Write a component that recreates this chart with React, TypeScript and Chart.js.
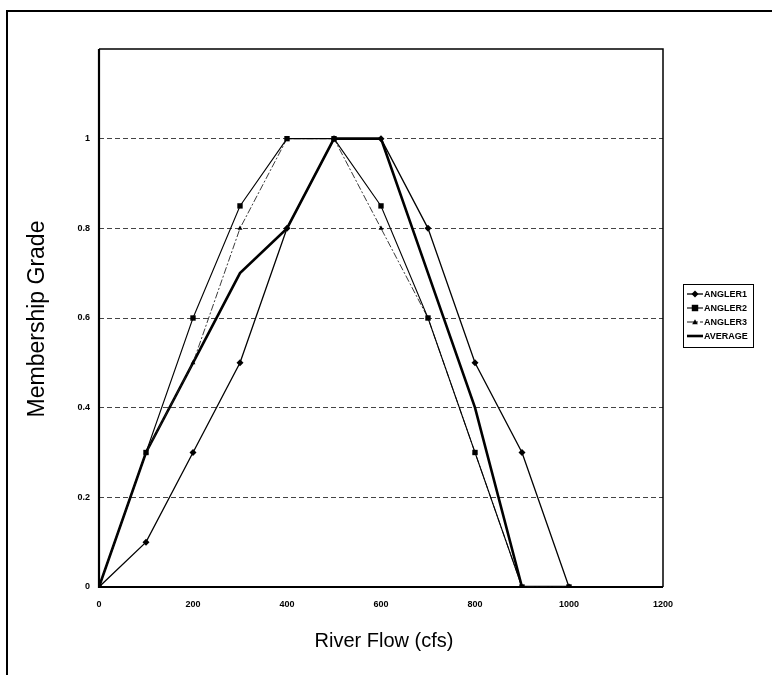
import React, { useEffect, useRef } from 'react';
import { Chart, registerables } from 'chart.js';

Chart.register(...registerables);

// River flow (cfs) categories
const flowValues = [0, 100, 200, 300, 400, 500, 600, 700, 800, 900, 1000];
// Membership grade per angler
const angler1 = [0, 0.1, 0.3, 0.5, 0.8, 1, 1, 0.8, 0.5, 0.3, 0];
const angler2 = [0, 0.3, 0.6, 0.85, 1, 1, 0.85, 0.6, 0.3, 0, 0];
const angler3 = [0, 0.3, 0.5, 0.8, 1, 1, 0.8, 0.6, 0.3, 0, 0];
const average = [0, 0.3, 0.5, 0.7, 0.8, 1, 1, 0.7, 0.4, 0, 0];

const seriesNames = ['ANGLER1', 'ANGLER2', 'ANGLER3', 'AVERAGE'];
const xTitle = 'River Flow (cfs)';
const yTitle = 'Membership Grade';

const FONT = 'Arial, "Liberation Sans", Helvetica, sans-serif';

function drawMarker(ctx: CanvasRenderingContext2D, style: string, x: number, y: number, r: number) {
  ctx.beginPath();
  if (style === 'rectRot') {
    ctx.moveTo(x, y - r);
    ctx.lineTo(x + r, y);
    ctx.lineTo(x, y + r);
    ctx.lineTo(x - r, y);
    ctx.closePath();
  } else if (style === 'rect') {
    ctx.rect(x - r * 0.85, y - r * 0.85, 1.7 * r, 1.7 * r);
  } else if (style === 'triangle') {
    ctx.moveTo(x, y - r);
    ctx.lineTo(x + r, y + r * 0.8);
    ctx.lineTo(x - r, y + r * 0.8);
    ctx.closePath();
  } else {
    return;
  }
  ctx.fillStyle = '#000';
  ctx.fill();
}

const outerFrame = {
  id: 'outerFrame',
  beforeDraw(chart: any) {
    const ctx = chart.ctx as CanvasRenderingContext2D;
    ctx.save();
    ctx.fillStyle = '#fff';
    ctx.fillRect(0, 0, chart.width, chart.height);
    ctx.strokeStyle = '#000';
    ctx.lineWidth = 2;
    ctx.beginPath();
    ctx.moveTo(7, chart.height);
    ctx.lineTo(7, 11);
    ctx.lineTo(chart.width, 11);
    ctx.stroke();
    ctx.restore();
  },
  beforeDatasetsDraw(chart: any) {
    const ctx = chart.ctx as CanvasRenderingContext2D;
    const a = chart.chartArea;
    ctx.save();
    ctx.strokeStyle = '#000';
    ctx.lineWidth = 1.5;
    ctx.beginPath();
    ctx.moveTo(a.left, a.top);
    ctx.lineTo(a.right, a.top);
    ctx.lineTo(a.right, a.bottom);
    ctx.stroke();
    ctx.lineWidth = 2.2;
    ctx.beginPath();
    ctx.moveTo(a.left, a.top);
    ctx.lineTo(a.left, a.bottom);
    ctx.lineTo(a.right, a.bottom);
    ctx.stroke();
    ctx.restore();
  },
  afterDraw(chart: any) {
    const ctx = chart.ctx as CanvasRenderingContext2D;
    const a = chart.chartArea;
    ctx.save();
    ctx.fillStyle = '#000';
    ctx.font = `20px ${FONT}`;
    ctx.textAlign = 'center';
    ctx.textBaseline = 'middle';
    ctx.fillText(xTitle, (a.left + a.right) / 2 + 3, 641);
    ctx.save();
    ctx.translate(38, (a.top + a.bottom) / 2 + 1);
    ctx.rotate(-Math.PI / 2);
    ctx.font = `23px ${FONT}`;
    ctx.fillText(yTitle, 0, 0);
    ctx.restore();

    // legend
    const bx = 683, by = 284, bw = 70, bh = 63;
    ctx.strokeStyle = '#000';
    ctx.lineWidth = 1;
    ctx.strokeRect(bx + 0.5, by + 0.5, bw, bh);
    ctx.font = `bold 9px ${FONT}`;
    ctx.textAlign = 'left';
    ctx.textBaseline = 'middle';
    chart.data.datasets.forEach((ds: any, i: number) => {
      const y = by + 10 + i * 14;
      ctx.save();
      ctx.strokeStyle = '#000';
      ctx.lineWidth = ds.borderWidth;
      ctx.setLineDash(ds.borderDash || []);
      ctx.beginPath();
      ctx.moveTo(bx + 4, y);
      ctx.lineTo(bx + 20, y);
      ctx.stroke();
      ctx.restore();
      if (ds.pointRadius > 0) drawMarker(ctx, ds.pointStyle, bx + 12, y, ds.pointRadius);
      ctx.fillStyle = '#000';
      ctx.fillText(ds.label, bx + 21, y + 0.5);
    });
    ctx.restore();
  },
};

export default function App() {
  const ref = useRef<HTMLCanvasElement>(null);

  useEffect(() => {
    const canvas = ref.current;
    if (!canvas) return;
    const mk = (arr: number[]) => flowValues.map((x, i) => ({ x, y: arr[i] }));
    const chart = new Chart(canvas, {
      type: 'line',
      data: {
        datasets: [
          {
            label: seriesNames[0],
            data: mk(angler1),
            borderColor: '#000',
            backgroundColor: '#000',
            borderWidth: 1.3,
            pointStyle: 'rectRot',
            pointRadius: 3.5,
            pointBackgroundColor: '#000',
            pointBorderColor: '#000',
            pointBorderWidth: 0,
            tension: 0,
          },
          {
            label: seriesNames[1],
            data: mk(angler2),
            borderColor: '#000',
            backgroundColor: '#000',
            borderWidth: 1.1,
            pointStyle: 'rect',
            pointRadius: 3.8,
            pointBackgroundColor: '#000',
            pointBorderColor: '#000',
            pointBorderWidth: 0,
            tension: 0,
          },
          {
            label: seriesNames[2],
            data: mk(angler3),
            borderColor: '#222',
            backgroundColor: '#000',
            borderWidth: 0.9,
            borderDash: [7, 2, 2, 2],
            pointStyle: 'triangle',
            pointRadius: 2.8,
            pointBackgroundColor: '#000',
            pointBorderColor: '#000',
            pointBorderWidth: 0,
            tension: 0,
          },
          {
            label: seriesNames[3],
            data: mk(average),
            borderColor: '#000',
            backgroundColor: '#000',
            borderWidth: 2.6,
            pointRadius: 0,
            pointStyle: 'line',
            tension: 0,
          },
        ],
      },
      options: {
        responsive: false,
        animation: false,
        devicePixelRatio: 1,
        layout: { padding: { left: 69, top: 49, right: 109, bottom: 58 } },
        plugins: {
          legend: { display: false },
          tooltip: { enabled: false },
        },
        scales: {
          x: {
            type: 'linear',
            min: 0,
            max: 1200,
            ticks: {
              stepSize: 200,
              color: '#000',
              font: { family: FONT, size: 9, weight: 'bold' },
              padding: 12,
              maxRotation: 0,
              callback: (v: any) => String(Math.round(Number(v))),
            },
            grid: { display: false, drawTicks: false },
            border: { display: false },
            afterFit: (s: any) => {
              s.height = 30;
            },
          },
          y: {
            type: 'linear',
            min: 0,
            max: 1.2,
            ticks: {
              stepSize: 0.2,
              color: '#000',
              font: { family: FONT, size: 9, weight: 'bold' },
              padding: 9,
              callback: (v: any) => (Number(v) > 1.1 ? '' : String(Math.round(Number(v) * 10) / 10)),
            },
            grid: {
              drawTicks: false,
              lineWidth: 1,
              color: (c: any) => {
                const v = c.tick ? c.tick.value : 0;
                return v < 0.01 || v > 1.1 ? 'rgba(0,0,0,0)' : '#444';
              },
            },
            border: { display: false, dash: [5, 3] },
            afterFit: (s: any) => {
              s.width = 30;
            },
          },
        },
      },
      plugins: [outerFrame],
    } as any);
    return () => chart.destroy();
  }, []);

  return (
    <div style={{ position: 'absolute', left: 0, top: 0, width: 772, height: 675, background: '#fff' }}>
      <canvas ref={ref} width={772} height={675} style={{ display: 'block', width: 772, height: 675 }} />
    </div>
  );
}
